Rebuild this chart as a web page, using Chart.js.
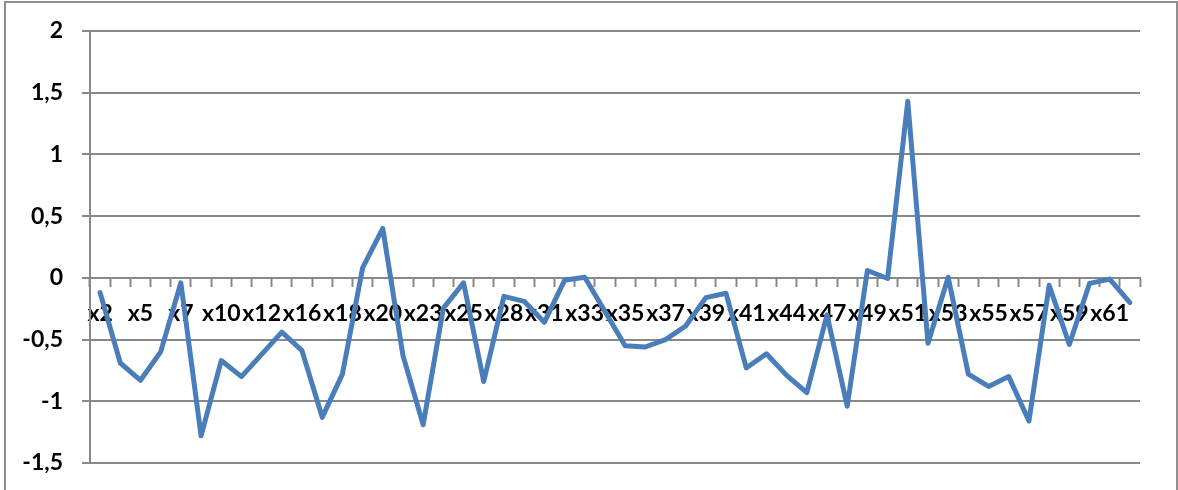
<!DOCTYPE html>
<html>
<head>
<meta charset="utf-8">
<script src="https://cdn.jsdelivr.net/npm/chart.js@4/dist/chart.umd.min.js"></script>
<style>
  html, body { margin: 0; padding: 0; background: #fff; }
  .wrap { position: relative; width: 1178px; height: 490px; overflow: hidden; }
  #chart { position: absolute; left: 0; top: 0; }
  .frame {
    position: absolute; left: 4px; top: 1px; width: 1170px; height: 520px;
    border: 2px solid #8f8f8f; pointer-events: none;
  }
</style>
</head>
<body>
<div class="wrap">
  <canvas id="chart" width="1178" height="490"></canvas>
  <div class="frame"></div>
</div>
<script>
// categories (only every other one gets a visible label, like the original)
const categories = ['x2', 'x3', 'x5', 'x6', 'x7', 'x8', 'x10', 'x11', 'x12', 'x14',
    'x16', 'x17', 'x18', 'x19', 'x20', 'x21', 'x23', 'x24', 'x25', 'x26',
    'x28', 'x29', 'x31', 'x32', 'x33', 'x34', 'x35', 'x36', 'x37', 'x38',
    'x39', 'x40', 'x41', 'x42', 'x44', 'x45', 'x47', 'x48', 'x49', 'x50',
    'x51', 'x52', 'x53', 'x54', 'x55', 'x56', 'x57', 'x58', 'x59', 'x60',
    'x61', 'x62'];

const values = [-0.12, -0.69, -0.83, -0.60, -0.04, -1.28, -0.67, -0.80, -0.62, -0.44,
    -0.59, -1.13, -0.78, 0.08, 0.40, -0.63, -1.19, -0.245, -0.04, -0.84,
    -0.15, -0.19, -0.36, -0.02, 0.005, -0.27, -0.55, -0.56, -0.50, -0.39,
    -0.16, -0.125, -0.73, -0.615, -0.79, -0.93, -0.30, -1.04, 0.06, -0.005,
    1.43, -0.53, 0.005, -0.78, -0.88, -0.80, -1.16, -0.06, -0.54, -0.045,
    -0.01, -0.20];

const yMin = -1.5;
const yMax = 2;
const yStep = 0.5;

const gridColor = '#888888';
const lineColor = '#4a7ebb';
const tickFont = { family: 'Lato, "Open Sans", sans-serif', size: 23, weight: 'bold' };

new Chart(document.getElementById('chart').getContext('2d'), {
    type: 'line',
    data: {
        labels: categories,
        datasets: [{
            data: values,
            borderColor: lineColor,
            borderWidth: 5,
            borderJoinStyle: 'round',
            borderCapStyle: 'round',
            pointRadius: 0,
            tension: 0,
            fill: false
        }]
    },
    options: {
        responsive: false,
        animation: false,
        devicePixelRatio: 1,
        layout: { padding: { left: 0, right: 38, top: 31, bottom: 27 } },
        plugins: {
            legend: { display: false },
            tooltip: { enabled: false }
        },
        scales: {
            x: {
                position: { y: 0 },
                offset: true,
                grid: {
                    offset: true,
                    drawOnChartArea: false,
                    drawTicks: true,
                    tickLength: 8,
                    tickWidth: 2,
                    color: gridColor
                },
                border: { display: true, color: gridColor, width: 2 },
                ticks: {
                    autoSkip: false,
                    maxRotation: 0,
                    minRotation: 0,
                    padding: 14,
                    color: '#000',
                    font: tickFont,
                    callback: function(val, i) {
                        return i % 2 === 0 ? this.getLabelForValue(val) : '';
                    }
                }
            },
            y: {
                min: yMin,
                max: yMax,
                afterFit: scale => {
                    scale.width = 90;
                    // keep the label padding from pushing the plot area in
                    scale.paddingTop = 0;
                    scale.paddingBottom = 0;
                },
                grid: {
                    color: gridColor,
                    lineWidth: 2,
                    tickLength: 8
                },
                border: { display: true, color: gridColor, width: 2 },
                ticks: {
                    stepSize: yStep,
                    padding: 19,
                    color: '#000',
                    font: tickFont,
                    callback: v => String(v).replace('.', ',')
                }
            }
        }
    }
});
</script>
</body>
</html>
